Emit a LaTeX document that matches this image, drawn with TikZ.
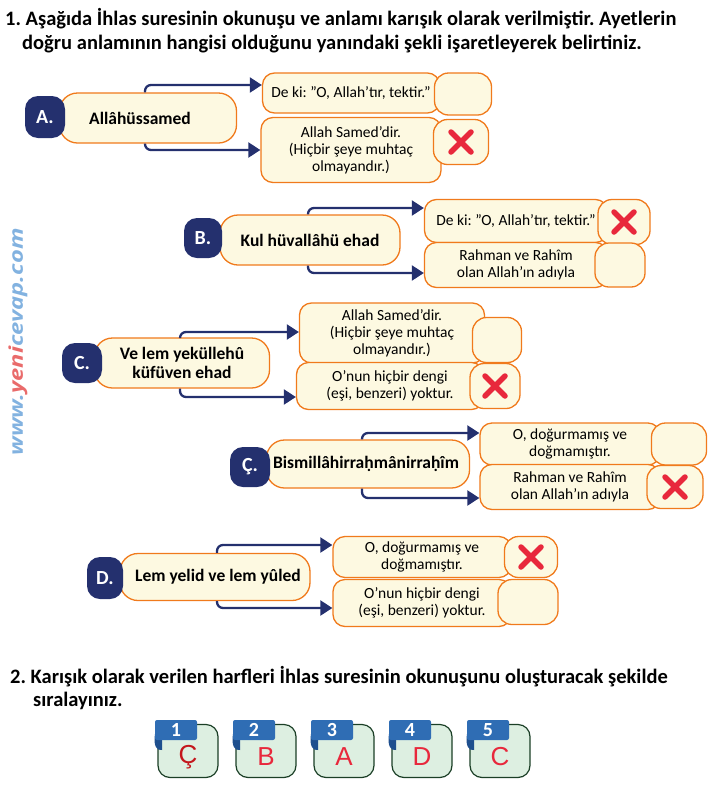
\documentclass[tikz,border=0pt]{standalone}
\usepackage{fontspec}
\setmainfont{Carlito}
\newfontfamily\wmfont{Open Sans}
\newfontfamily\tilefont{Liberation Sans}
\usetikzlibrary{arrows.meta}
\definecolor{cream}{HTML}{FDF9E1}
\definecolor{orng}{HTML}{F07A1C}
\definecolor{navy}{HTML}{24306E}
\definecolor{xred}{HTML}{E8283C}
\definecolor{darkred}{HTML}{C4161C}
\definecolor{tilegreen}{HTML}{DDEFE1}
\definecolor{tileline}{HTML}{1B3F26}
\definecolor{tabblue}{HTML}{2F6DB4}
\definecolor{tabdark}{HTML}{1E4F8E}
\definecolor{wmblue}{HTML}{82B2E0}
\definecolor{wmred}{HTML}{E96B6B}
\frenchspacing
\tikzset{
  mainbox/.style={draw=orng, fill=cream, line width=1.3pt, rounded corners=18pt, align=center, inner sep=0pt,
    font=\bfseries\fontsize{17.5}{19}\selectfont},
  badge/.style={fill=navy, rounded corners=13pt, text=white, inner sep=0pt,
    font=\bfseries\fontsize{20}{20}\selectfont},
  ansbox/.style={draw=orng, fill=cream, line width=1.3pt, rounded corners=12pt, align=center, inner sep=0pt,
    font=\fontsize{15.5}{17}\selectfont},
  checkbox/.style={draw=orng, fill=cream, line width=1.3pt, rounded corners=14pt, inner sep=0pt},
  conn/.style={draw=navy, line width=2.3pt, rounded corners=6pt, -{Triangle[length=12pt,width=15pt]}},
  xmark/.style={draw=xred, line width=5.5pt, line cap=round},
  question/.style={anchor=base west, inner sep=0pt, font=\bfseries\fontsize{20.5}{22}\selectfont},
  tile/.style={draw=tileline, fill=tilegreen, line width=1.2pt, rounded corners=12pt,
    minimum width=60pt, minimum height=53pt},
  tiletab/.style={fill=tabblue, rounded corners=2pt, text=white, minimum width=42pt, minimum height=20pt,
    inner sep=0pt, font=\bfseries\fontsize{20}{20}\selectfont},
  tileletter/.style={text=xred, inner sep=0pt, font=\tilefont\fontsize{26}{26}\selectfont},
}
\newcommand\qt{\symbol{34}}
\newcommand\xcross[1]{%
  \draw[xmark] ([shift={(-10pt,-10pt)}]#1.center) -- ([shift={(10pt,10pt)}]#1.center);
  \draw[xmark] ([shift={(-10pt,10pt)}]#1.center) -- ([shift={(10pt,-10pt)}]#1.center);}
\begin{document}
\begin{tikzpicture}[x=1pt,y=-1pt]
\useasboundingbox (0,0) rectangle (710,785);

\node[question] (q1a) at (5,25) {1. Aşağıda İhlas suresinin okunuşu ve anlamı karışık olarak verilmiştir. Ayetlerin};
\node[question] (q1b) at (22,49) {doğru anlamının hangisi olduğunu yanındaki şekli işaretleyerek belirtiniz.};

% A
\node[mainbox, minimum width=177pt, minimum height=50pt] (mA) at (148,118) {\hspace*{-16pt}Allâhüssamed};
\node[badge, minimum width=40pt, minimum height=42pt] (bA) at (45,117) {A.};
\node[ansbox, minimum width=177pt, minimum height=40pt] (aA1) at (351,93) {De ki: \qt O, Allah'tır, tektir.\qt};
\node[ansbox, minimum width=180pt, minimum height=65pt] (aA2) at (351,150) {Allah Samed'dir.\\(Hiçbir şeye muhtaç\\olmayandır.)};
\node[checkbox, minimum width=57pt, minimum height=42pt] (kA1) at (463,94) {};
\node[checkbox, minimum width=55pt, minimum height=45pt] (kA2) at (461,142) {};
\xcross{kA2}
\draw[conn] ([xshift=-3pt]mA.north) |- ([yshift=8pt]aA1.west);
\draw[conn] ([xshift=-3pt]mA.south) |- (aA2.west);

% B
\node[mainbox, minimum width=180pt, minimum height=50pt] (mB) at (310,240) {Kul hüvallâhü ehad};
\node[badge, minimum width=38pt, minimum height=40pt] (bB) at (203,238) {B.};
\node[ansbox, minimum width=183pt, minimum height=43pt] (aB1) at (516,221) {De ki: \qt O, Allah'tır, tektir.\qt};
\node[ansbox, minimum width=183pt, minimum height=45pt] (aB2) at (516,265) {Rahman ve Rahîm\\olan Allah'ın adıyla};
\node[checkbox, minimum width=52pt, minimum height=45pt] (kB1) at (624,222) {};
\node[checkbox, minimum width=50pt, minimum height=44pt] (kB2) at (620,265) {};
\xcross{kB1}
\draw[conn] ([xshift=-2pt]mB.north) |- ([yshift=13pt]aB1.west);
\draw[conn] ([xshift=-2pt]mB.south) |- ([yshift=-8pt]aB2.west);

% C
\node[mainbox, minimum width=175pt, minimum height=50pt] (mC) at (182,363) {Ve lem yeküllehû\\küfüven ehad};
\node[badge, minimum width=40pt, minimum height=40pt] (bC) at (82,363) {C.};
\node[ansbox, minimum width=185pt, minimum height=60pt] (aC1) at (392,333) {Allah Samed'dir.\\(Hiçbir şeye muhtaç\\olmayandır.)};
\node[ansbox, minimum width=187pt, minimum height=47pt] (aC2) at (390,386) {O'nun hiçbir dengi\\(eşi, benzeri) yoktur.};
\node[checkbox, minimum width=49pt, minimum height=45pt] (kC1) at (497,340) {};
\node[checkbox, minimum width=50pt, minimum height=45pt] (kC2) at (495,386) {};
\xcross{kC2}
\draw[conn] ([xshift=-2pt]mC.north) |- ([yshift=1pt]aC1.west);
\draw[conn] ([xshift=-2pt]mC.south) |- ([yshift=-11pt]aC2.west);

% Ç
\node[mainbox, minimum width=203pt, minimum height=48pt] (mCc) at (368,464) {\hspace*{-4pt}Bismillâhirraḥmânirraḥîm};
\node[badge, minimum width=40pt, minimum height=40pt] (bCc) at (250,467) {Ç.};
\node[ansbox, minimum width=180pt, minimum height=42pt] (aCc1) at (570,444) {O, doğurmamış ve\\doğmamıştır.};
\node[ansbox, minimum width=180pt, minimum height=45pt] (aCc2) at (570,487) {Rahman ve Rahîm\\olan Allah'ın adıyla};
\node[checkbox, minimum width=55pt, minimum height=42pt] (kCc1) at (679,444) {};
\node[checkbox, minimum width=56pt, minimum height=43pt] (kCc2) at (675,487) {};
\xcross{kCc2}
\draw[conn] ([xshift=-6pt]mCc.north) |- ([yshift=11pt]aCc1.west);
\draw[conn] ([xshift=-6pt]mCc.south) |- ([yshift=-11pt]aCc2.west);

% D
\node[mainbox, minimum width=190pt, minimum height=47pt] (mD) at (215,577) {\hspace*{6pt}Lem yelid ve lem yûled};
\node[badge, minimum width=36pt, minimum height=42pt] (bD) at (105,578) {D.};
\node[ansbox, minimum width=178pt, minimum height=41pt] (aD1) at (422,557) {O, doğurmamış ve\\doğmamıştır.};
\node[ansbox, minimum width=178pt, minimum height=47pt] (aD2) at (422,603) {O'nun hiçbir dengi\\(eşi, benzeri) yoktur.};
\node[checkbox, minimum width=53pt, minimum height=41pt] (kD1) at (531,557) {};
\node[checkbox, minimum width=60pt, minimum height=45pt] (kD2) at (528,602) {};
\xcross{kD1}
\draw[conn] ([xshift=2pt]mD.north) |- ([yshift=12pt]aD1.west);
\draw[conn] ([xshift=2pt]mD.south) |- ([yshift=-5pt]aD2.west);

\node[question] (q2a) at (10,683) {2. Karışık olarak verilen harfleri İhlas suresinin okunuşunu oluşturacak şekilde};
\node[question] (q2b) at (33,706) {sıralayınız.};

\foreach \i/\l/\c in {1/Ç/darkred,2/B/xred,3/A/xred,4/D/xred,5/C/xred}{
  \begin{scope}[xshift={78*(\i-1)}]
    \node[tile] (t\i) at (188,751) {};
    \node[tileletter, text=\c] (l\i) at (188,757) {\l};
    \fill[tabdark] (155,734) .. controls (153,746) and (157,751) .. (162,750) -- (162,738) -- cycle;
    \node[tiletab] (n\i) at (176,730) {\i};
  \end{scope}
}

\node[rotate=90, text=wmblue, inner sep=0pt, font=\wmfont\itshape\bfseries\fontsize{19}{19}\selectfont] (wm) at (18,342)
  {\scalebox{1.25}[1]{www.\textcolor{wmred}{yeni}cevap.com}};
\end{tikzpicture}
\end{document}
